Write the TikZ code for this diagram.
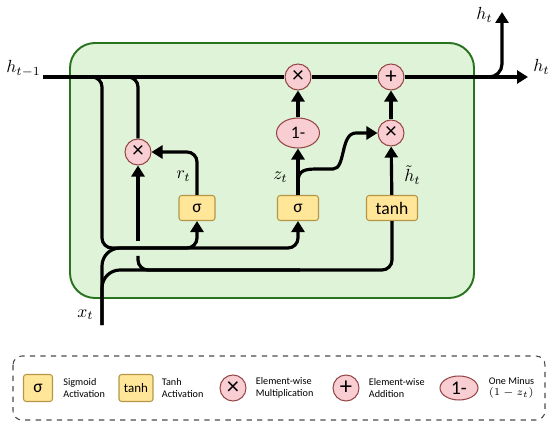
\documentclass[tikz,border=0pt]{standalone}
\usepackage{amsmath}
\usepackage{fontspec}
\setmainfont{Carlito}
\usetikzlibrary{arrows.meta,positioning,shapes.geometric}

\definecolor{cellfill}{RGB}{222,243,216}
\definecolor{celldraw}{RGB}{40,115,30}
\definecolor{gatefill}{RGB}{255,230,153}
\definecolor{gatedraw}{RGB}{180,150,70}
\definecolor{opfill}{RGB}{248,206,210}
\definecolor{opdraw}{RGB}{150,70,70}

\newcommand{\keyfont}{\fontsize{5.8}{6.6}\selectfont}

\begin{document}
\begin{tikzpicture}[
    x=0.02cm, y=-0.02cm,
    font=\fontsize{10}{12}\selectfont,
    gate/.style={
        draw=gatedraw,
        fill=gatefill,
        rounded corners=1.5pt,
        line width=0.6pt,
        minimum height=0.5cm,
        inner sep=1pt
    },
    op/.style={
        circle,
        draw=opdraw,
        fill=opfill,
        line width=0.6pt,
        minimum size=0.52cm,
        inner sep=0pt,
        font=\fontsize{13}{13}\selectfont
    },
    minus/.style={
        ellipse,
        draw=opdraw,
        fill=opfill,
        line width=0.6pt,
        minimum width=0.86cm,
        minimum height=0.6cm,
        inner sep=0pt
    },
    wire/.style={
        line width=1.8pt,
        rounded corners=0.2cm
    },
    arrow/.style={
        wire,
        -{Triangle[length=2.2mm,width=2.6mm]}
    },
    keytext/.style={
        font=\keyfont,
        align=left,
        inner sep=0pt
    }
]

\useasboundingbox (0,0) rectangle (550,428);

% ------------------------------------------------------------------
% Cell
% ------------------------------------------------------------------

\draw[celldraw, fill=cellfill, line width=1.1pt, rounded corners=0.5cm]
    (70,43) rectangle (474,298);

\node[op] (mulr) at (138,152) {×};
\node[gate, minimum width=0.72cm] (sigr) at (197,208) {σ};
\node[gate, minimum width=0.82cm] (sigz) at (298,208) {σ};
\node[gate, minimum width=1.02cm] (tanh) at (392,208) {tanh};
\node[minus] (oneminus) at (298,133) {1-};
\node[op] (mulz) at (298,77) {×};
\node[op] (mulh) at (391,133) {×};
\node[op] (addh) at (391,77) {+};

\coordinate (hin) at (43,77);
\coordinate (hout) at (528,77);
\coordinate (hsplit) at (482,77);
\coordinate (hup) at (502,12);
\coordinate (xin) at (102,325);
\coordinate (tapa) at (85,77);
\coordinate (tapb) at (118,77);
\coordinate (uprail) at (150,248);
\coordinate (lowrail) at (300,270);
\coordinate (gaptop) at (138,241);
\coordinate (gapbot) at (138,256);
\coordinate (zsplit) at (298,182);

% ------------------------------------------------------------------
% Hidden state
% ------------------------------------------------------------------

\draw[wire] (hin) -- (mulz);
\draw[wire] (mulz) -- (addh);
\draw[arrow] (addh) -- (hout);
\draw[arrow, rounded corners=0.26cm] (hsplit) -| (hup);

\node[anchor=base east, inner sep=0pt] (hinlabel) at (41,73) {$h_{t-1}$};
\node[anchor=base west, inner sep=0pt] (houtlabel) at (533,72) {$h_t$};
\node[anchor=base east, inner sep=0pt] (huplabel) at (493,20) {$h_t$};

% ------------------------------------------------------------------
% Inputs to the gates
% ------------------------------------------------------------------

\draw[arrow] (tapa) -| (xin |- uprail) -| (sigr.south);
\draw[arrow] (uprail) -| (sigz.south);

\draw[wire, rounded corners=0.36cm] (xin) |- (uprail);
\draw[wire, rounded corners=0.36cm] (xin) |- (lowrail);

\node[anchor=base east, inner sep=0pt] (xinlabel) at (94,317) {$x_t$};

\draw[wire] (tapb) -| (mulr.north);
\draw[arrow] (gaptop) -- (mulr.south);
\draw[wire] (gapbot) |- (lowrail) -| (tanh.south);

% ------------------------------------------------------------------
% Gate outputs
% ------------------------------------------------------------------

\draw[arrow] (sigr.north) |- (mulr.east);
\node[anchor=base east, inner sep=0pt] (rlabel) at (191,179) {$r_t$};

\draw[arrow] (sigz.north) -- (oneminus.south);
\draw[arrow, sharp corners]
    (zsplit) .. controls (298,170) and (305,169) .. (318,169)
    -- (333,169) .. controls (346,169) and (340,133) .. (356,133)
    -- (mulh.west);
\node[anchor=base east, inner sep=0pt] (zlabel) at (288,180) {$z_t$};

\draw[arrow] (oneminus) -- (mulz);
\draw[arrow] (tanh) -- (mulh);
\draw[arrow] (mulh) -- (addh);
\node[anchor=base west, inner sep=0pt] (hcandlabel) at (404,182) {$\tilde{h}_t$};

% ------------------------------------------------------------------
% Legend
% ------------------------------------------------------------------

\draw[gray!60!black, dashed, line width=0.6pt, rounded corners=0.18cm]
    (13,356) rectangle (545,420);

\node[gate, minimum width=0.58cm, minimum height=0.54cm] (keysig) at (38,388) {σ};
\node[keytext, right=2mm of keysig] (keysigtext) {Sigmoid\\Activation};

\node[gate, minimum width=0.68cm, minimum height=0.54cm,
      font=\fontsize{7.4}{9}\selectfont] (keytanh) at (136,388) {tanh};
\node[keytext, right=1.6mm of keytanh] (keytanhtext) {Tanh\\Activation};

\node[op, font=\fontsize{14}{14}\selectfont] (keymul) at (233,388) {×};
\node[keytext, right=1.8mm of keymul] (keymultext) {Element-wise\\Multiplication};

\node[op, font=\fontsize{14}{14}\selectfont] (keyadd) at (346,388) {+};
\node[keytext, right=1.8mm of keyadd] (keyaddtext) {Element-wise\\Addition};

\node[minus, minimum width=0.76cm, minimum height=0.48cm,
      font=\fontsize{11}{11}\selectfont] (keyminus) at (459,388) {1-};
\node[keytext, right=2mm of keyminus] (keyminustext) {One Minus\\$(1-z_t)$};

\end{tikzpicture}
\end{document}
